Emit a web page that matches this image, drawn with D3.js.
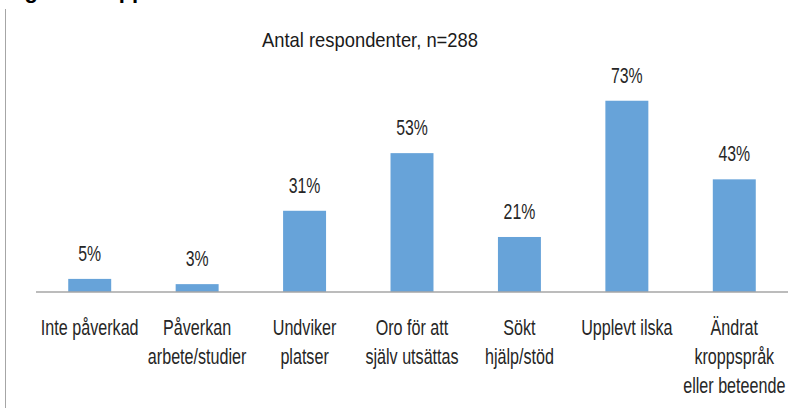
<!DOCTYPE html>
<html>
<head>
<meta charset="utf-8">
<script src="https://cdn.jsdelivr.net/npm/d3@7"></script>
<style>
  html, body { margin: 0; padding: 0; background: #fff; }
  svg { display: block; }
  text { font-family: 'Liberation Sans', Arial, sans-serif; fill: #262626; }
</style>
</head>
<body>
<svg id="chart" width="796" height="408"></svg>
<script>
const categories = [
  ["Inte påverkad"],
  ["Påverkan", "arbete/studier"],
  ["Undviker", "platser"],
  ["Oro för att", "själv utsättas"],
  ["Sökt", "hjälp/stöd"],
  ["Upplevt ilska"],
  ["Ändrat", "kroppspråk", "eller beteende"]
];
const values = [5, 3, 31, 53, 21, 73, 43];
const valueLabels = ["5%", "3%", "31%", "53%", "21%", "73%", "43%"];
const chartTitle = "Antal respondenter, n=288";
const headerText = "Figur 12. Upplevelser";

const svg = d3.select("#chart");
const W = 796, H = 408;

// cut-off header text above the frame (only descenders visible)
svg.append("text")
  .attr("x", 5).attr("y", -2)
  .style("font-weight", "bold").style("font-size", "22px").style("fill", "#000")
  .text(headerText);

// frame left border
svg.append("line")
  .attr("x1", 5.5).attr("x2", 5.5).attr("y1", 9).attr("y2", H)
  .attr("stroke", "#a6a6a6").attr("stroke-width", 1);

const x = d3.scaleBand()
  .domain(d3.range(categories.length))
  .range([36, 788])
  .paddingInner(0.6).paddingOuter(0.3);

const y = d3.scaleLinear().domain([0, 100]).range([292, 30]);

// title
svg.append("text")
  .attr("transform", "translate(370,47) scale(0.875,1)")
  .attr("text-anchor", "middle")
  .style("font-size", "21px")
  .style("fill", "#1a1a1a")
  .text(chartTitle);

// bars
svg.append("g").selectAll("rect")
  .data(values)
  .join("rect")
  .attr("x", (d, i) => x(i))
  .attr("width", x.bandwidth())
  .attr("y", d => y(d))
  .attr("height", d => y(0) - y(d))
  .attr("fill", "#67a3d9");

// value labels
svg.append("g").selectAll("text")
  .data(values)
  .join("text")
  .attr("transform", (d, i) => `translate(${x(i) + x.bandwidth() / 2},${y(d) - 18}) scale(0.72,1)`)
  .attr("text-anchor", "middle")
  .style("font-size", "22px")
  .text((d, i) => valueLabels[i]);

// x axis
const xAxis = d3.axisBottom(x).tickSize(0).tickFormat(() => "");
const ax = svg.append("g").attr("transform", `translate(0,${y(0)})`).call(xAxis);
ax.select(".domain").attr("stroke", "#a6a6a6").attr("stroke-width", 1.5)
  .attr("d", `M36,0H788`);

// category labels
const lab = svg.append("g").selectAll("text")
  .data(categories)
  .join("text")
  .attr("transform", (d, i) => `translate(${x(i) + x.bandwidth() / 2},334.5) scale(0.75,1)`)
  .attr("text-anchor", "middle")
  .style("font-size", "21.5px");
lab.selectAll("tspan")
  .data(d => d)
  .join("tspan")
  .attr("x", 0)
  .attr("dy", (d, j) => j === 0 ? 0 : 29.5)
  .text(d => d);
</script>
</body>
</html>
